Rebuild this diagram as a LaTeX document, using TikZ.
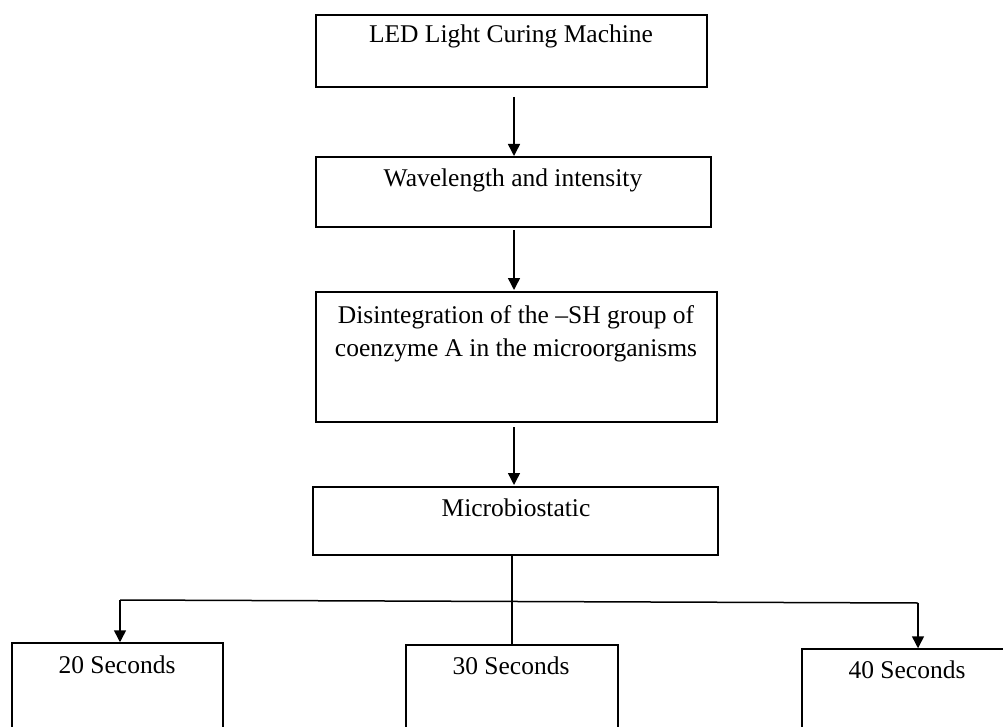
\documentclass[tikz,border=0pt]{standalone}
\usepackage{fontspec}
\setmainfont{Liberation Serif}
\usetikzlibrary{arrows.meta}
\begin{document}
\begin{tikzpicture}[x=1pt,y=-1pt,
  box/.style={draw,line width=1.5pt,inner sep=0pt,rectangle},
  lbl/.style={inner sep=0pt,font=\fontsize{25.5}{33}\selectfont,align=center},
  arr/.style={line width=1.5pt,-{Triangle[width=12pt,length=12pt]}},
  ln/.style={line width=1.5pt}]
\useasboundingbox (0,0) rectangle (1003,727);
\clip (0,0) rectangle (1003,727);
% boxes
\node[box,minimum width=391pt,minimum height=72pt] (b1) at (511.5,51) {};
\node[box,minimum width=395pt,minimum height=70pt] (b2) at (513.5,192) {};
\node[box,minimum width=401pt,minimum height=130pt] (b3) at (516.5,357) {};
\node[box,minimum width=405pt,minimum height=68pt] (b4) at (515.5,521) {};
\node[box,minimum width=211pt,minimum height=117pt] (b20) at (117.5,701.5) {};
\node[box,minimum width=212pt,minimum height=115pt] (b30) at (512,702.5) {};
\node[box,minimum width=213pt,minimum height=111pt] (b40) at (908.5,704.5) {};
% labels
\node[lbl,anchor=base] (t1) at (511,43) {LED Light Curing Machine};
\node[lbl,anchor=base] (t2) at (513,187) {Wavelength and intensity};
\node[lbl,anchor=north] (t3) at (516,305) {Disintegration of the –SH group of\\coenzyme A in the microorganisms};
\node[lbl,anchor=base] (t4) at (516,516) {Microbiostatic};
\node[lbl,anchor=base] (t20) at (117,673) {20 Seconds};
\node[lbl,anchor=base] (t30) at (511,674) {30 Seconds};
\node[lbl,anchor=base] (t40) at (907,678) {40 Seconds};
% connectors
\coordinate (a1s) at (514,97);
\coordinate (a1e) at (514,156);
\coordinate (a2s) at (514,230);
\coordinate (a2e) at (514,290);
\coordinate (a3s) at (514,427);
\coordinate (a3e) at (514,485);
\draw[arr] (a1s) -- (a1e);
\draw[arr] (a2s) -- (a2e);
\draw[arr] (a3s) -- (a3e);
\coordinate (bt) at (512,555);
\coordinate (hl) at (120,600);
\coordinate (hr) at (918,603);
\draw[ln] (bt) -- (b30.north);
\draw[ln] (hl) -- (hr);
\draw[arr] (hl) -- (hl |- b20.north);
\draw[arr] (hr) -- (hr |- b40.north);
\end{tikzpicture}
\end{document}
